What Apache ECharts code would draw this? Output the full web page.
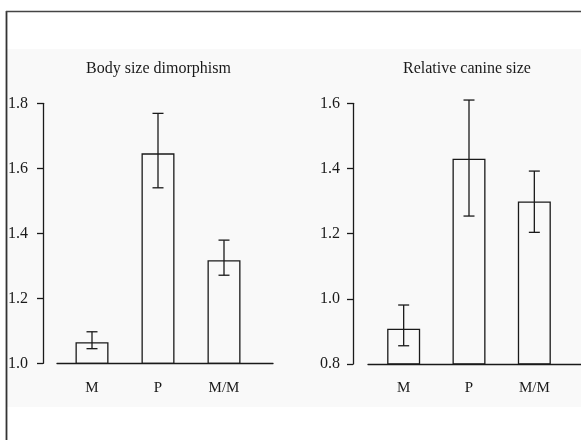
<!DOCTYPE html>
<html>
<head>
<meta charset="utf-8">
<script src="https://cdn.jsdelivr.net/npm/echarts@6/dist/echarts.min.js"></script>
<style>
html,body{margin:0;padding:0;background:#fff;}
#chart{width:581px;height:440px;}
</style>
</head>
<body>
<div id="chart"></div>
<script>
// Data
const categories = ['M', 'P', 'M/M'];
const bodyMeans = [1.065, 1.646, 1.317];
const bodyLow = [1.045, 1.540, 1.271];
const bodyHigh = [1.097, 1.769, 1.379];
const canineMeans = [0.908, 1.430, 1.299];
const canineLow = [0.856, 1.254, 1.204];
const canineHigh = [0.981, 1.610, 1.392];
const bodyTicks = {min: 1.0, max: 1.8, interval: 0.2};
const canineTicks = {min: 0.8, max: 1.6, interval: 0.2};

const FONT = 'Liberation Serif';
const INK = '#1a1a1a';

function errorSeries(xi, yi, low, high) {
  return {
    type: 'custom',
    xAxisIndex: xi, yAxisIndex: yi,
    data: low.map((l, i) => [i, l, high[i]]),
    z: 5,
    renderItem: function (params, api) {
      const i = api.value(0);
      const p1 = api.coord([i, api.value(1)]);
      const p2 = api.coord([i, api.value(2)]);
      const hw = 5.5;
      const st = {stroke: INK, lineWidth: 1.3};
      return {
        type: 'group',
        children: [
          {type: 'line', shape: {x1: p1[0], y1: p1[1], x2: p2[0], y2: p2[1]}, style: st},
          {type: 'line', shape: {x1: p1[0] - hw, y1: p1[1], x2: p1[0] + hw, y2: p1[1]}, style: st},
          {type: 'line', shape: {x1: p2[0] - hw, y1: p2[1], x2: p2[0] + hw, y2: p2[1]}, style: st}
        ]
      };
    }
  };
}

function barSeries(xi, yi, vals) {
  return {
    type: 'bar', xAxisIndex: xi, yAxisIndex: yi,
    data: vals, barWidth: 33,
    itemStyle: {color: 'rgba(255,255,255,0)', borderColor: INK, borderWidth: 1.3},
    z: 3, silent: true
  };
}

function valueY(ticks, gridIndex, offset, margin) {
  return {
    type: 'value', gridIndex: gridIndex,
    min: ticks.min, max: ticks.max, interval: ticks.interval,
    offset: offset,
    axisLine: {show: true, lineStyle: {color: INK, width: 1.3}},
    axisTick: {show: true, length: 6, lineStyle: {color: INK, width: 1.3}},
    axisLabel: {margin: margin, color: INK, fontFamily: FONT, fontSize: 16,
      formatter: v => v.toFixed(1)},
    splitLine: {show: false}
  };
}
function catX(gridIndex) {
  return {
    type: 'category', gridIndex: gridIndex, data: categories,
    axisLine: {show: false}, axisTick: {show: false},
    axisLabel: {margin: 17, color: INK, fontFamily: FONT, fontSize: 15}
  };
}
function baseX(gridIndex) {
  return {
    type: 'value', gridIndex: gridIndex, min: 0, max: 1,
    axisLine: {show: true, onZero: false, lineStyle: {color: INK, width: 1.3}},
    axisTick: {show: false}, axisLabel: {show: false}, splitLine: {show: false}
  };
}
function hiddenY(gridIndex) {
  return {type: 'value', gridIndex: gridIndex, show: false, min: 0, max: 1, splitLine: {show: false}};
}

const chart = echarts.init(document.getElementById('chart'), null, {renderer: 'canvas'});
chart.setOption({
  animation: false,
  backgroundColor: '#ffffff',
  graphic: [
    {type: 'rect', z: -10, shape: {x: 7, y: 49, width: 574, height: 358}, style: {fill: '#f9f9f9'}},
    {type: 'line', z: -5, shape: {x1: 6.5, y1: 11, x2: 6.5, y2: 440}, style: {stroke: '#333', lineWidth: 1.8}},
    {type: 'line', z: -5, shape: {x1: 6, y1: 11.5, x2: 581, y2: 11.5}, style: {stroke: '#444', lineWidth: 1.5}}
  ],
  title: [
    {text: 'Body size dimorphism', left: 86, top: 61, padding: 0,
      textStyle: {fontFamily: FONT, fontSize: 16, fontWeight: 'normal', color: INK}},
    {text: 'Relative canine size', left: 403, top: 61, padding: 0,
      textStyle: {fontFamily: FONT, fontSize: 16, fontWeight: 'normal', color: INK}}
  ],
  grid: [
    {left: 59, width: 198, top: 103.3, height: 260},
    {left: 57, width: 216, top: 103.3, height: 260},
    {left: 371, width: 196, top: 103.3, height: 260.7},
    {left: 368, width: 215, top: 103.3, height: 260.7}
  ],
  xAxis: [catX(0), baseX(1), catX(2), baseX(3)],
  yAxis: [valueY(bodyTicks, 0, 16, 15), hiddenY(1), valueY(canineTicks, 2, 18, 13), hiddenY(3)],
  series: [
    barSeries(0, 0, bodyMeans),
    errorSeries(0, 0, bodyLow, bodyHigh),
    barSeries(2, 2, canineMeans),
    errorSeries(2, 2, canineLow, canineHigh)
  ]
});
</script>
</body>
</html>
